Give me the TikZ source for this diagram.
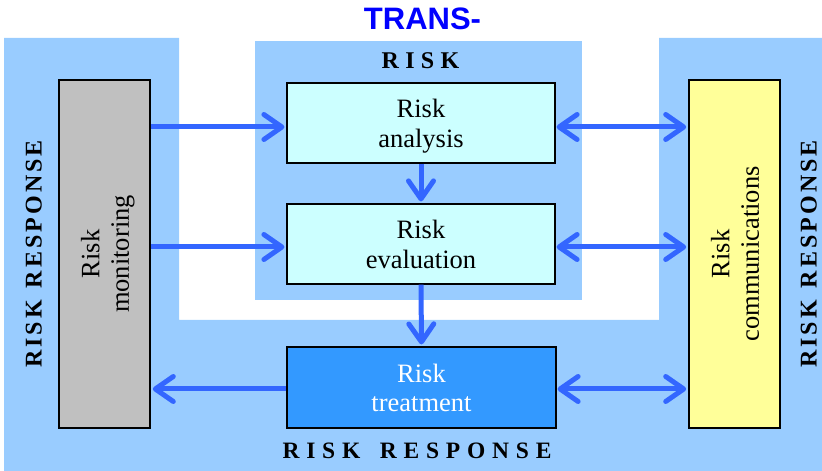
\documentclass[tikz,border=0pt]{standalone}
\usepackage{fontspec}
\setmainfont{Liberation Serif}
\newfontfamily\arialfam{Liberation Sans}
\usetikzlibrary{arrows.meta}
\definecolor{panel}{HTML}{99CCFF}
\definecolor{monfill}{HTML}{C0C0C0}
\definecolor{comfill}{HTML}{FFFF99}
\definecolor{anafill}{HTML}{CCFFFF}
\definecolor{trefill}{HTML}{3399FF}
\definecolor{arrowblue}{HTML}{3366FF}
\definecolor{titleblue}{HTML}{0000FF}
\newdimen\lk
\newcommand\wRISK{R\kern\lk I\kern\lk S\kern\lk K}
\newcommand\wRESP{R\kern\lk E\kern\lk S\kern\lk P\kern\lk O\kern\lk N\kern\lk S\kern\lk E}
\newcommand\wRR{\wRISK\kern\lk\ \kern\lk\wRESP}
\newcommand\topstrut{\rule{0pt}{25pt}}
\newcommand\botstrut{\rule[-6pt]{0pt}{6pt}}
\tikzset{
  box/.style={draw=black, line width=1.2pt, inner sep=0pt, align=center,
    font=\fontsize{26.5}{29.5}\selectfont},
  midbox/.style={box, fill=anafill, minimum width=268pt, minimum height=80pt},
  sidebox/.style={box, line width=1.6pt, rotate=90, minimum width=348pt, minimum height=91pt},
  lbl/.style={inner sep=0pt, font=\bfseries\fontsize{24}{24}\selectfont},
  arr/.style={draw=arrowblue, line width=5pt, shorten >=2pt,
    -{Straight Barb[length=18pt,width=25pt,round]}},
  darr/.style={draw=arrowblue, line width=5pt, shorten >=2pt, shorten <=1pt,
    {Straight Barb[length=18pt,width=25pt,round]}-{Straight Barb[length=18pt,width=25pt,round]}}
}
\begin{document}
\begin{tikzpicture}[x=1pt,y=1pt]
\useasboundingbox (0,0) rectangle (822,471);
% background panels
\fill[panel] (4,0) -- (822,0) -- (822,433) -- (659,433) -- (659,151) -- (179,151)
  -- (179,433) -- (4,433) -- cycle;
\fill[panel] (255,171) rectangle (582,430);
% boxes
\node[sidebox, fill=monfill] (mon) at (104.5,217) {\topstrut Risk\\monitoring\botstrut};
\node[sidebox, fill=comfill] (com) at (734.5,217) {\topstrut Risk\\communications\botstrut};
\node[midbox] (ana) at (421,348) {\topstrut Risk\\analysis\botstrut};
\node[midbox] (eva) at (421,227) {\topstrut Risk\\evaluation\botstrut};
\node[box, fill=trefill, text=white, minimum width=269pt, minimum height=81pt]
  (tre) at (421.5,83.5) {\topstrut Risk\\treatment\botstrut};
% labels
\node[anchor=base, inner sep=0pt, text=titleblue,
  font=\arialfam\bfseries\fontsize{31}{31}\selectfont] (trans) at (422.5,441) {TRANS-};
\node[lbl, anchor=base] (risk) at (420.5,402.7) {\lk=6.3pt\wRISK};
\node[lbl, anchor=base, font=\bfseries\fontsize{23.5}{24}\selectfont] (rrb) at (417,12.7) {\lk=6.8pt\wRR};
\node[lbl, anchor=base, rotate=90] (rrl) at (41.7,217) {\lk=3pt\wRR};
\node[lbl, anchor=base, rotate=90] (rrr) at (816.7,217) {\lk=3pt\wRR};
% connectors
\draw[arr] ([yshift=-4pt]mon.south |- ana.west) -- ([yshift=-4pt]ana.west);
\draw[arr] ([yshift=-3pt]mon.south |- eva.west) -- ([yshift=-3pt]eva.west);
\draw[darr] ([yshift=-4pt]ana.east) -- ([yshift=-4pt]com.north |- ana.east);
\draw[darr] ([yshift=-3pt]eva.east) -- ([yshift=-3pt]com.north |- eva.east);
\draw[arr] (ana.south) -- (eva.north);
\draw[arr] (eva.south) -- (tre.north);
\draw[arr] ([yshift=-1.5pt]tre.west) -- ([yshift=-1.5pt]mon.south |- tre.west);
\draw[darr] ([yshift=-1.5pt]tre.east) -- ([yshift=-1.5pt]com.north |- tre.east);
\end{tikzpicture}
\end{document}
